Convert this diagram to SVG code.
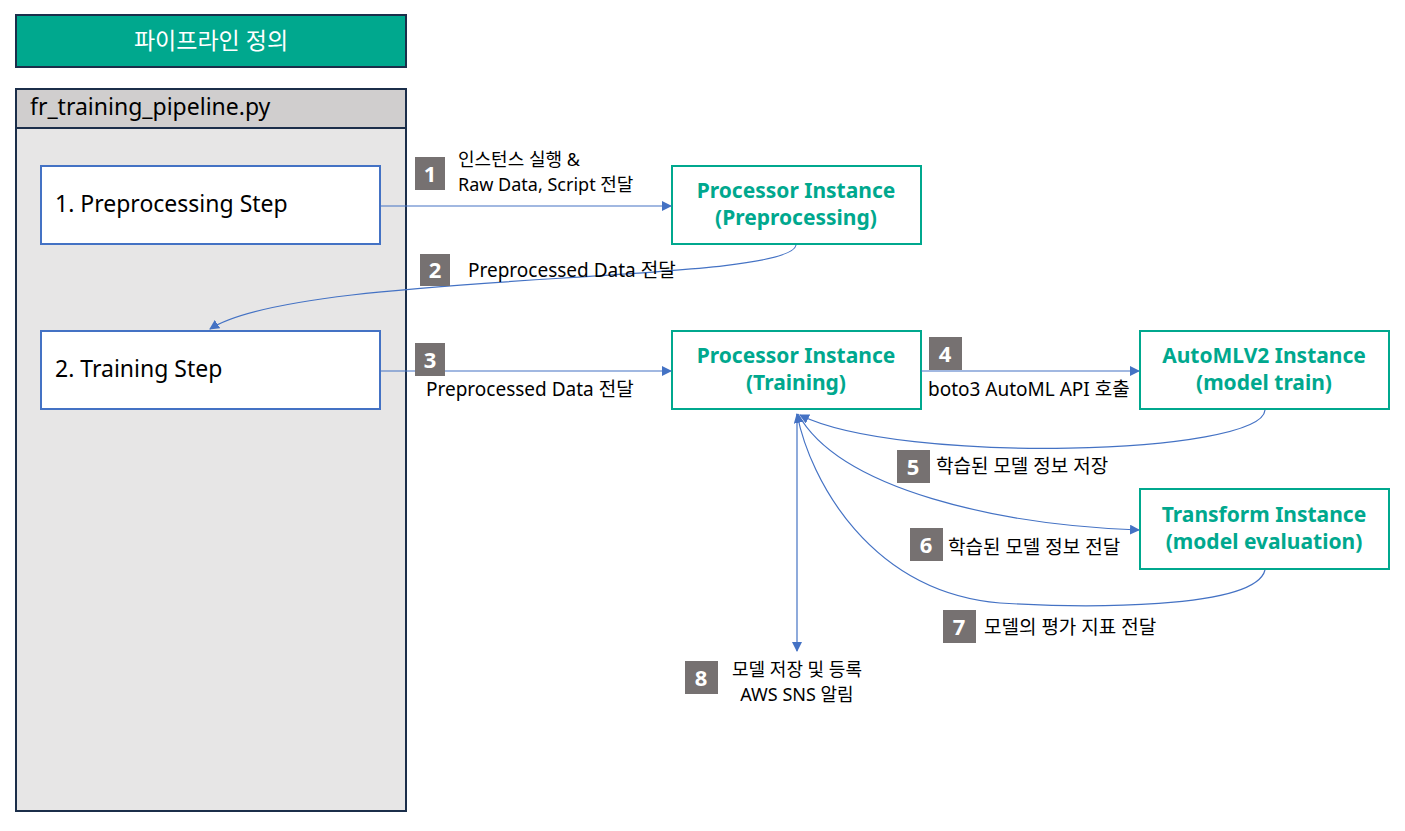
<svg xmlns="http://www.w3.org/2000/svg" width="1405" height="831" viewBox="0 0 1405 831">
<defs>
<marker id="ah" viewBox="0 0 10 10" refX="9" refY="5" markerWidth="10" markerHeight="10" markerUnits="userSpaceOnUse" orient="auto">
<path d="M0,0 L10,5 L0,10 z" fill="#4472C4"/>
</marker>
<style>
.t{font-family:"Noto Sans","Noto Sans CJK KR",sans-serif;fill:#000}
.step{fill:#fff;stroke:#4472C4;stroke-width:2}
.inst{fill:#fff;stroke:#00A88E;stroke-width:2}
.it{font-family:"Noto Sans","Noto Sans CJK KR",sans-serif;font-weight:bold;font-size:21px;fill:#00A88E;text-anchor:middle}
.badge{fill:#767171}
.bt{font-family:"Noto Sans",sans-serif;font-weight:bold;font-size:22px;fill:#fff;text-anchor:middle}
.lbl{font-family:"Noto Sans","Noto Sans CJK KR",sans-serif;font-size:19px;fill:#000}
.lbl2{font-family:"Noto Sans","Noto Sans CJK KR",sans-serif;font-size:18px;fill:#000}
.c{fill:none;stroke:#4472C4;stroke-width:1.2;marker-end:url(#ah)}
</style>
</defs>
<rect width="1405" height="831" fill="#fff"/>
<g id="title">
<rect x="16" y="15" width="390" height="52" fill="#00A88E" stroke="#1B2E4A" stroke-width="2"/>
<text x="211" y="49" class="t" font-size="23" style="fill:#fff" text-anchor="middle">파이프라인 정의</text>
</g>
<g id="file">
<rect x="16" y="89" width="390" height="722" fill="#E7E6E6" stroke="#1B2E4A" stroke-width="2"/>
<rect x="16" y="89" width="390" height="39" fill="#D0CECE" stroke="#1B2E4A" stroke-width="2"/>
<text x="30" y="115" class="t" font-size="23">fr_training_pipeline.py</text>
</g>
<g id="step1">
<rect x="41" y="166" width="339" height="78" class="step"/>
<text x="55" y="212" class="t" font-size="23">1. Preprocessing Step</text>
</g>
<g id="step2">
<rect x="41" y="331" width="339" height="78" class="step"/>
<text x="55" y="377" class="t" font-size="23">2. Training Step</text>
</g>
<g id="proc-pre">
<rect x="672" y="166" width="249" height="78" class="inst"/>
<text x="796" y="198" class="it">Processor Instance</text>
<text x="796" y="225" class="it">(Preprocessing)</text>
</g>
<g id="proc-train">
<rect x="672" y="331" width="249" height="78" class="inst"/>
<text x="796" y="363" class="it">Processor Instance</text>
<text x="796" y="390" class="it">(Training)</text>
</g>
<g id="automl">
<rect x="1140" y="331" width="249" height="78" class="inst"/>
<text x="1264" y="363" class="it">AutoMLV2 Instance</text>
<text x="1264" y="390" class="it">(model train)</text>
</g>
<g id="transform">
<rect x="1140" y="489" width="249" height="80" class="inst"/>
<text x="1264" y="522" class="it">Transform Instance</text>
<text x="1264" y="549" class="it">(model evaluation)</text>
</g>
<g id="connectors">
<path class="c" d="M380,206 L671,206"/>
<path class="c" d="M796,245 C790,285 300,270 210,329"/>
<path class="c" d="M380,371 L671,371"/>
<path class="c" d="M921,371 L1139,371"/>
<path class="c" d="M1265,410 C1262,455 900,465 800,415"/>
<path class="c" d="M798,414 C840,490 1000,525 1139,530"/>
<path class="c" d="M1265,570 C1255,610 1080,608 1000,603 C870,592 810,480 797,414"/>
<path class="c" d="M797,414 L797,651"/>
</g>
<g id="labels">
<rect x="415" y="157" width="30" height="33" class="badge"/><text x="430" y="182" class="bt">1</text>
<text x="458" y="166" class="lbl2">인스턴스 실행 &amp;</text>
<text x="458" y="191" class="lbl2">Raw Data, Script 전달</text>
<rect x="420" y="254" width="30" height="32" class="badge"/><text x="435" y="278" class="bt">2</text>
<text x="468" y="277" class="lbl">Preprocessed Data 전달</text>
<rect x="415" y="343" width="30" height="33" class="badge"/><text x="430" y="368" class="bt">3</text>
<text x="426" y="396" class="lbl">Preprocessed Data 전달</text>
<rect x="929" y="337" width="33" height="33" class="badge"/><text x="945" y="362" class="bt">4</text>
<text x="928" y="396" class="lbl">boto3 AutoML API 호출</text>
<rect x="897" y="450" width="33" height="33" class="badge"/><text x="913" y="475" class="bt">5</text>
<text x="936" y="473" class="lbl">학습된 모델 정보 저장</text>
<rect x="910" y="528" width="33" height="33" class="badge"/><text x="926" y="553" class="bt">6</text>
<text x="948" y="554" class="lbl">학습된 모델 정보 전달</text>
<rect x="943" y="610" width="33" height="33" class="badge"/><text x="959" y="635" class="bt">7</text>
<text x="984" y="634" class="lbl">모델의 평가 지표 전달</text>
<rect x="685" y="661" width="33" height="33" class="badge"/><text x="701" y="686" class="bt">8</text>
<text x="797" y="676" class="lbl2" text-anchor="middle">모델 저장 및 등록</text>
<text x="797" y="701" class="lbl2" text-anchor="middle">AWS SNS 알림</text>
</g>
</svg>
